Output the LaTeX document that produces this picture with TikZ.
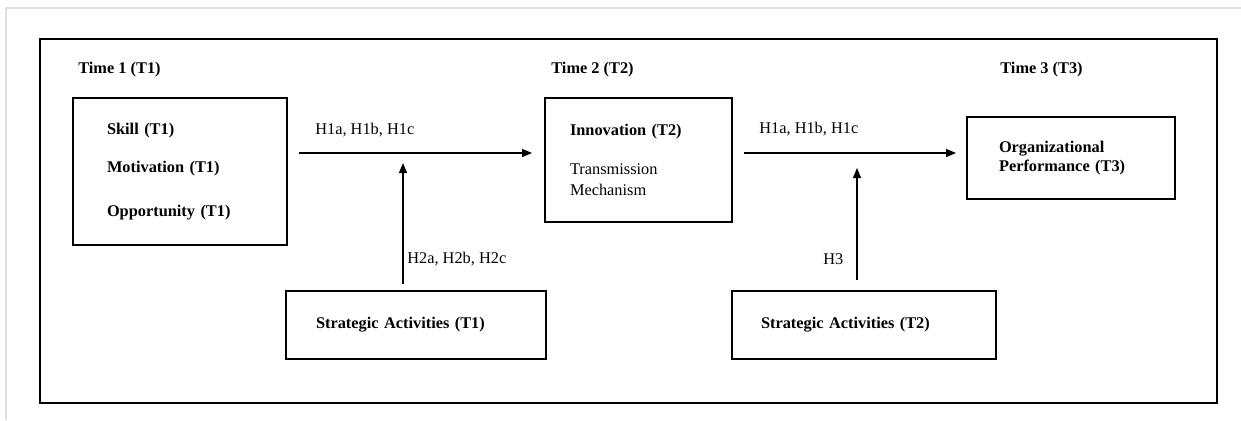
\documentclass[tikz,border=0pt]{standalone}
\usepackage{fontspec}
\setmainfont{Liberation Serif}
\usepackage{tikz}
\usetikzlibrary{arrows.meta, calc}
\newcommand{\figfont}{\fontsize{9.3pt}{11pt}\selectfont}

\begin{document}
\begin{tikzpicture}[>={Triangle[length=0.2cm, width=0.16cm]}, x=0.02cm, y=-0.02cm,
  font=\figfont,
  box/.style={draw, line width=1.1pt, align=left, inner ysep=0pt},
  lbl/.style={inner sep=0pt, anchor=west},
  arr/.style={->, line width=0.7pt}]
  \useasboundingbox (0,0) rectangle (1241,420);
  % Frame
  \draw[gray!25, line width=1.2pt] (6,420) -- (6,8) -- (1241,8);
  \draw[line width=1.5pt] (40,39) rectangle (1217,403);

  % Time labels
  \node[lbl, font=\figfont\bfseries] (time1) at (78,70) {Time 1 (T1)};
  \node[lbl, font=\figfont\bfseries] (time2) at (551,70) {Time 2 (T2)};
  \node[lbl, font=\figfont\bfseries] (time3) at (1000,70) {Time 3 (T3)};

  % Main boxes
  \node[box, font=\figfont\bfseries, minimum height=2.94cm, inner xsep=0.68cm, text width=2.92cm] (amo) at (180,171.5)
    {Skill (T1)\\[11pt] Motivation (T1)\\[14pt] Opportunity (T1)};
  \node[box, minimum height=2.48cm, inner xsep=0.5cm, text width=2.74cm] (innov) at (638.5,160)
    {\textbf{Innovation (T2)}\\[11pt] Transmission\\[1pt] Mechanism};
  \node[box, font=\figfont\bfseries, minimum height=1.64cm, inner xsep=0.64cm, text width=2.88cm] (perf) at (1071,158)
    {Organizational\\ Performance (T3)};

  % Moderators
  \node[box, font=\figfont\bfseries, minimum height=1.36cm, inner xsep=0.6cm, text width=4.0cm] (sa1) at (416,325)
    {Strategic Activities (T1)};
  \node[box, font=\figfont\bfseries, minimum height=1.36cm, inner xsep=0.58cm, text width=4.12cm] (sa2) at (864,325)
    {Strategic Activities (T2)};

  % Paths
  \coordinate (m1) at (403,153);
  \coordinate (m2) at (857,153);
  \draw[arr, shorten <=0.22cm, shorten >=0.24cm] (amo.east |- m1) -- (innov.west |- m1);
  \draw[arr, shorten <=0.22cm, shorten >=0.2cm] (innov.east |- m2) -- (perf.west |- m2);
  \draw[arr, shorten <=0.12cm, shorten >=0.2cm] (sa1.north -| m1) -- (m1);
  \draw[arr, shorten <=0.2cm, shorten >=0.3cm] (sa2.north -| m2) -- (m2);

  % Hypotheses
  \node[lbl] (h1a) at (315,130) {H1a, H1b, H1c};
  \node[lbl] (h1b) at (759,129) {H1a, H1b, H1c};
  \node[lbl] (h2) at (407,259) {H2a, H2b, H2c};
  \node[lbl] (h3) at (823,259) {H3};
\end{tikzpicture}
\end{document}
